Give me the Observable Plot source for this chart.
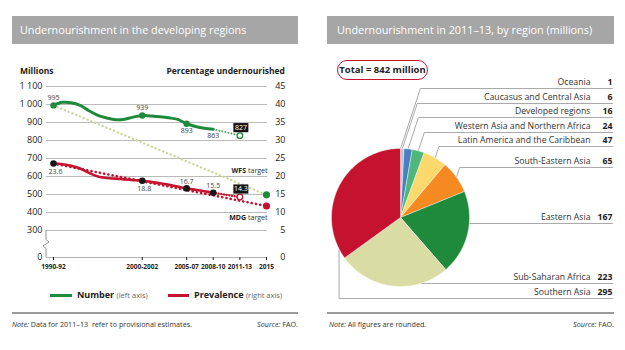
<!DOCTYPE html>
<html><head><meta charset="utf-8">
<script src="https://cdn.jsdelivr.net/npm/d3@7"></script>
<script src="https://cdn.jsdelivr.net/npm/@observablehq/plot@0.6"></script>
<style>
body{margin:0;width:625px;height:350px;background:#fff;font-family:"Open Sans",sans-serif;position:relative;overflow:hidden;color:#222}
.abs{position:absolute;white-space:nowrap}
.hdr{position:absolute;top:16px;height:28px;background:#a6a6a6;color:#fff;font-size:10.8px;line-height:28px;box-sizing:border-box}
.sep{position:absolute;top:312px;height:2px;background:#9a9a9a}
.note{position:absolute;top:318px;font-size:7.2px;line-height:12px;color:#333;white-space:nowrap}
.lg{position:absolute;top:289px;font-size:9px;line-height:12px;white-space:nowrap}
.lg b{font-weight:700}
.lg span{font-size:7.5px;color:#666}
.sw{position:absolute;top:294px;height:3px}
#left,#right{position:absolute}
</style></head><body>
<div class="hdr" style="left:12px;width:286px;padding-left:8px">Undernourishment in the developing regions</div>
<div class="hdr" style="left:327px;width:287px;padding-left:10px">Undernourishment in 2011–13, by region (millions)</div>
<div class="abs" style="left:20px;top:65px;font-size:8.5px;font-weight:700">Millions</div>
<div class="abs" style="right:340px;top:65px;font-size:8.5px;font-weight:700">Percentage undernourished</div>
<div id="left" style="left:0;top:50px"></div>
<div id="right" style="left:315px;top:50px"></div>
<div class="sw" style="left:50px;width:22px;background:#1f8a3b"></div>
<div class="lg" style="left:77px"><b>Number</b> <span>(left axis)</span></div>
<div class="sw" style="left:168px;width:21px;background:#c4122f"></div>
<div class="lg" style="left:194px"><b>Prevalence</b> <span>(right axis)</span></div>
<div class="abs" style="left:337px;top:60px;width:91px;height:20px;box-sizing:border-box;border:1.5px solid #c4122f;border-radius:10px;font-size:9.5px;font-weight:700;line-height:17px;text-align:center">Total = 842 million</div>
<div class="sep" style="left:12px;width:286px"></div>
<div class="sep" style="left:327px;width:287px"></div>
<div class="note" style="left:12px"><i>Note:</i> Data for 2011–13&nbsp; refer to provisional estimates.</div>
<div class="note" style="right:327px"><i>Source:</i> FAO.</div>
<div class="note" style="left:329px"><i>Note:</i> All figures are rounded.</div>
<div class="note" style="right:11px"><i>Source:</i> FAO.</div>
<script>
// ---------- data: left chart ----------
const years          = [1991,1992,1993,1994,1995,1996,1997,1998,1999,2000,2001,2002,2003,2004,2005,2006,2007,2008,2009];
const numberMillions = [995,1012,1010,995,965,940,925,915,918,930,939,936,932,926,917,893,878,868,863];
const prevalencePct  = [23.6,23.4,23.0,22.2,21.0,20.0,19.6,19.4,19.2,19.0,18.8,18.5,18.1,17.7,17.2,16.7,16.3,15.9,15.5];
const keyYears   = [1991,2001,2006,2009];
const keyNumbers = [995,939,893,863];
const keyPrev    = [23.6,18.8,16.7,15.5];
const provYear = 2012, provNumber = 827, provPrev = 14.3;
const targetYear = 2015, wfsTarget = 498, mdgTarget = 11.8;
const xTickYears  = [1991,2001,2006,2009,2012,2015];
const xTickLabels = ["1990-92","2000-2002","2005-07","2008-10","2011-13","2015"];
const leftTicks  = [0,300,400,500,600,700,800,900,1000,1100];
const rightTicks = [0,5,10,15,20,25,30,35,40,45];

// ---------- data: right chart ----------
const regions = ["Oceania","Caucasus and Central Asia","Developed regions","Western Asia and Northern Africa","Latin America and the Caribbean","South-Eastern Asia","Eastern Asia","Sub-Saharan Africa","Southern Asia"];
const regionValues = [1,6,16,24,47,65,167,223,295];
const regionColors = ["#d6d6d6","#b9c4d6","#4a80c2","#4db77c","#fbd96c","#f58a22","#1f8a3b","#d9dca3","#c4122f"];

const GREEN = "#1f8a3b", RED = "#c4122f", PALE = "#cbd79a";
const FONT = "Open Sans, sans-serif";

// broken axis: 0 sits at 150 on the display scale; pct p -> 200 + 20p
const BREAK = 150;
const dispM = m => m === 0 ? BREAK : m;
const dispP = p => p === 0 ? BREAK : 200 + 20 * p;

const series = years.map((y, i) => ({year: y, number: numberMillions[i], prev: prevalencePct[i]}));
const keyPts = keyYears.map((y, i) => ({year: y, number: keyNumbers[i], prev: keyPrev[i], i}));
const leftDisp = leftTicks.map(dispM);
const leftLab = new Map(leftTicks.map(t => [dispM(t), d3.format(",")(t).replace(",", " ")]));
const rightLab = new Map(rightTicks.map(t => [dispP(t), String(t)]));

const boxSymbol = {draw(ctx) { ctx.rect(-7.5, -4.6, 15, 9.2); }};

const measure = (txt, font) => { const c = document.createElement("canvas").getContext("2d"); c.font = font; return c.measureText(txt).width; };
const targetW = measure("target", `7px ${FONT}`);

const breakMark = (index, scales, values, dims) => {
  const x = dims.marginLeft, y1 = scales.y(300), y0 = scales.y(BREAK);
  const m = y1 + (y0 - y1) * 0.5;
  const p = document.createElementNS("http://www.w3.org/2000/svg", "path");
  p.setAttribute("d", `M${x},${y1}V${m - 4}l3,2.5l-6,4l3,2.5V${y0}`);
  p.setAttribute("fill", "none"); p.setAttribute("stroke", "#888"); p.setAttribute("stroke-width", "0.9");
  return p;
};

const lbl = {fontSize: 7, fill: "#444", fontFamily: FONT};
const left = Plot.plot({
  width: 310, height: 230,
  marginLeft: 46, marginRight: 43, marginTop: 36, marginBottom: 23,
  x: {domain: [1991, 2015], range: [53, 266]},
  y: {domain: [BREAK, 1100], range: [207, 36]},
  style: {fontFamily: FONT, background: "transparent", color: "#222"},
  marks: [
    Plot.ruleY(leftDisp.filter(v => v !== BREAK), {stroke: "#a9a9a9", strokeWidth: 0.8}),
    Plot.ruleY([BREAK], {stroke: "#a9a9a9", strokeWidth: 0.9}),
    breakMark,
    Plot.axisY(leftDisp, {anchor: "left", tickSize: 0, tickPadding: 4, tickFormat: d => leftLab.get(d), fontSize: 9, label: null}),
    Plot.axisY(leftDisp, {anchor: "right", tickSize: 0, tickPadding: 18, textAnchor: "end", tickFormat: d => rightLab.get(d), fontSize: 9, label: null}),
    Plot.axisX(xTickYears, {tickSize: 3, tickPadding: 4, tickFormat: d => xTickLabels[xTickYears.indexOf(d)], fontSize: 6.5, fontWeight: "bold", label: null}),
    // targets (dotted)
    Plot.line([{year: years[0], v: numberMillions[0]}, {year: targetYear, v: wfsTarget}], {x: "year", y: "v", stroke: PALE, strokeWidth: 2.4, strokeDasharray: "0.1 4", strokeLinecap: "round"}),
    Plot.line([{year: years[0], v: prevalencePct[0]}, {year: targetYear, v: mdgTarget}], {x: "year", y: d => dispP(d.v), stroke: RED, strokeWidth: 2.6, strokeDasharray: "0.1 4.2", strokeLinecap: "round"}),
    // provisional (dotted)
    Plot.line([{year: 2009, v: 863}, {year: provYear, v: provNumber}], {x: "year", y: "v", stroke: "#5aa35f", strokeWidth: 2, strokeDasharray: "0.1 3", strokeLinecap: "round"}),
    Plot.line([{year: 2009, v: 15.5}, {year: provYear, v: provPrev}], {x: "year", y: d => dispP(d.v), stroke: RED, strokeWidth: 2.4, strokeDasharray: "0.1 2.6", strokeLinecap: "round"}),
    // main series
    Plot.line(series, {x: "year", y: "number", stroke: GREEN, strokeWidth: 3, curve: "catmull-rom"}),
    Plot.line(series, {x: "year", y: d => dispP(d.prev), stroke: RED, strokeWidth: 2.6, curve: "catmull-rom"}),
    Plot.dot(keyPts.slice(0, 3), {x: "year", y: "number", r: 3.2, fill: GREEN}),
    Plot.dot(keyPts, {x: "year", y: d => dispP(d.prev), r: 3.3, fill: "#151515"}),
    Plot.dot([{year: provYear, v: provNumber}], {x: "year", y: "v", r: 2.8, fill: "#fff", stroke: GREEN, strokeWidth: 1.3}),
    Plot.dot([{year: provYear, v: provPrev}], {x: "year", y: d => dispP(d.v), r: 2.8, fill: "#fff", stroke: RED, strokeWidth: 1.3}),
    Plot.dot([{year: targetYear, v: wfsTarget}], {x: "year", y: "v", r: 3.6, fill: GREEN}),
    Plot.dot([{year: targetYear, v: mdgTarget}], {x: "year", y: d => dispP(d.v), r: 3.6, fill: RED}),
    // value labels
    Plot.text(keyPts.filter(d => d.i < 2), {x: "year", y: "number", text: d => String(d.number), dy: -8, ...lbl}),
    Plot.text(keyPts.filter(d => d.i >= 2), {x: "year", y: "number", text: d => String(d.number), dy: 7, ...lbl}),
    Plot.text(keyPts.filter(d => d.i < 2), {x: "year", y: d => dispP(d.prev), text: d => d.prev.toFixed(1), dy: 8, dx: 2, ...lbl}),
    Plot.text(keyPts.filter(d => d.i >= 2), {x: "year", y: d => dispP(d.prev), text: d => d.prev.toFixed(1), dy: -7, ...lbl}),
    Plot.dot([{year: provYear, v: provNumber}], {x: "year", y: "v", symbol: boxSymbol, fill: "#151515", dy: -8, dx: 1}),
    Plot.text([{year: provYear, v: provNumber}], {x: "year", y: "v", text: d => String(d.v), dy: -8, dx: 1, fontSize: 7, fill: "#fff"}),
    Plot.dot([{year: provYear, v: provPrev}], {x: "year", y: d => dispP(d.v), symbol: boxSymbol, fill: "#151515", dy: -8, dx: 1}),
    Plot.text([{year: provYear, v: provPrev}], {x: "year", y: d => dispP(d.v), text: d => d.v.toFixed(1), dy: -8, dx: 1, fontSize: 7, fill: "#fff"}),
    // target annotations
    Plot.text([{year: targetYear, v: wfsTarget}], {x: "year", y: "v", text: () => "target", dy: -24, dx: 1, textAnchor: "end", fontSize: 7, fill: "#333"}),
    Plot.text([{year: targetYear, v: wfsTarget}], {x: "year", y: "v", text: () => "WFS", dy: -24, dx: 1 - targetW - 2, textAnchor: "end", fontSize: 7, fontWeight: "bold", fill: "#222"}),
    Plot.text([{year: targetYear, v: mdgTarget}], {x: "year", y: d => dispP(d.v), text: () => "target", dy: 12, dx: 1, textAnchor: "end", fontSize: 7, fill: "#333"}),
    Plot.text([{year: targetYear, v: mdgTarget}], {x: "year", y: d => dispP(d.v), text: () => "MDG", dy: 12, dx: 1 - targetW - 2, textAnchor: "end", fontSize: 7, fontWeight: "bold", fill: "#222"})
  ]
});
document.getElementById("left").appendChild(left);

// ---------- right chart (pie) ----------
const PW = 310, PH = 260;
const cx = 85, cy = 167, R = 69;           // pie layout in panel pixels
const rowY = [32, 47, 61, 76, 90, 111, 167, 227, 242]; // label rows (layout)
const labelEnd = 275, valueEnd = 297;
const arcs = d3.pie().sort(null).value(d => d)(regionValues);
const pt = (a, r = R) => ({x: cx + r * Math.sin(a), y: cy - r * Math.cos(a)});
const slices = arcs.map((a, i) => {
  const n = Math.max(2, Math.ceil((a.endAngle - a.startAngle) / 0.01));
  const pts = [{x: cx, y: cy}];
  for (let k = 0; k <= n; k++) pts.push(pt(a.startAngle + (a.endAngle - a.startAngle) * k / n));
  pts.push({x: cx, y: cy});
  return {pts, color: regionColors[i]};
});
const leaders = arcs.map((a, i) => {
  const ly = rowY[i] + 6;
  const mid = (a.startAngle + a.endAngle) / 2;
  let pts;
  if (mid < Math.PI / 2) {
    const s = pt(mid, R + 0.5);
    pts = [s, {x: s.x + (s.y - ly) * 0.33, y: ly}];
  } else if (Math.abs(ly - cy) < R && Math.PI / 2 + Math.asin((ly - cy) / R) < a.endAngle) {
    pts = [{x: cx + Math.sqrt(R * R - (ly - cy) ** 2) + 0.5, y: ly}];
  } else {
    const s = pt(a.startAngle + 8 * Math.PI / 180, R + 0.5);
    pts = [s, {x: s.x, y: ly}];
  }
  pts.push({x: valueEnd, y: ly});
  return pts;
});
const rows = regions.map((r, i) => ({name: r, value: regionValues[i], y: rowY[i]}));
const right = Plot.plot({
  width: PW, height: PH, margin: 0,
  x: {domain: [0, PW], range: [0, PW], axis: null},
  y: {domain: [0, PH], range: [0, PH], axis: null},
  style: {fontFamily: FONT, background: "transparent"},
  marks: [
    ...leaders.map(p => Plot.line(p, {x: "x", y: "y", stroke: "#a0a0a0", strokeWidth: 0.9})),
    ...slices.map(s => Plot.line(s.pts, {x: "x", y: "y", fill: s.color, stroke: "#fff", strokeWidth: 0.5, strokeOpacity: 0.8})),
    Plot.text(rows, {x: labelEnd, y: "y", text: "name", textAnchor: "end", fontSize: 8.7, fill: "#333"}),
    Plot.text(rows, {x: valueEnd, y: "y", text: d => String(d.value), textAnchor: "end", fontSize: 8.7, fontWeight: "bold", fill: "#222"})
  ]
});
document.getElementById("right").appendChild(right);
</script>
</body></html>
